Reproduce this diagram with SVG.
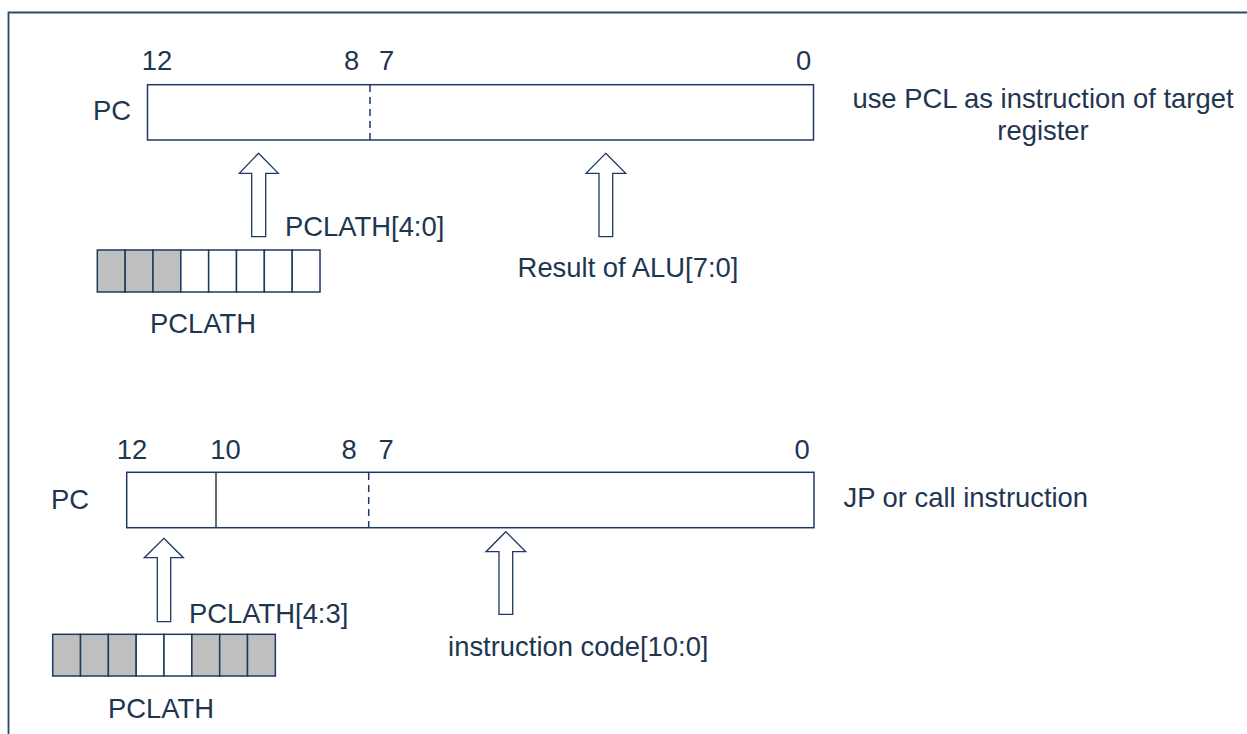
<svg xmlns="http://www.w3.org/2000/svg" width="1247" height="734" viewBox="0 0 1247 734">
<style>
text{font-family:"Liberation Sans",Arial,sans-serif;font-size:27.4px;fill:#1f3650}
.m{text-anchor:middle}
.box{fill:#fff;stroke:#1f3864;stroke-width:1.5}
.cell{stroke:#1f3864;stroke-width:1.5}
.g{fill:#bfbfbf}
.w{fill:#fff}
.arr{fill:#fff;stroke:#1f3864;stroke-width:1.3;stroke-linejoin:miter}
.div{stroke:#2b3a4a;stroke-width:1.5}
.dash{stroke:#1f3864;stroke-width:1.5;stroke-dasharray:7,5}
</style>
<path d="M8.5,734 V12.5 H1247" fill="none" stroke="#2c4a63" stroke-width="1.8"/>
<g id="pc-top">
<rect class="box" x="147.5" y="84.7" width="666" height="55.3"/>
<line class="dash" x1="370" y1="85" x2="370" y2="140"/>
<text class="m" x="112" y="120">PC</text>
<text class="m" x="157" y="69.5">12</text>
<text class="m" x="351.5" y="69.5">8</text>
<text class="m" x="386.5" y="69.5">7</text>
<text class="m" x="803.5" y="69.5">0</text>
<text class="m" x="1043" y="108">use PCL as instruction of target</text>
<text class="m" x="1043" y="140">register</text>
</g>
<g id="pclath-top">
<rect class="cell g" x="97.3" y="250" width="27.84" height="42"/>
<rect class="cell g" x="125.14" y="250" width="27.84" height="42"/>
<rect class="cell g" x="152.98" y="250" width="27.84" height="42"/>
<rect class="cell w" x="180.82" y="250" width="27.84" height="42"/>
<rect class="cell w" x="208.66" y="250" width="27.84" height="42"/>
<rect class="cell w" x="236.5" y="250" width="27.84" height="42"/>
<rect class="cell w" x="264.34" y="250" width="27.84" height="42"/>
<rect class="cell w" x="292.18" y="250" width="27.84" height="42"/>
<text class="m" x="203" y="333">PCLATH</text>
</g>
<g id="pc-bottom">
<rect class="box" x="126.7" y="472.3" width="687.3" height="55.4"/>
<line class="div" x1="216" y1="472.3" x2="216" y2="527.7"/>
<line class="dash" x1="368.7" y1="473" x2="368.7" y2="528"/>
<text class="m" x="70" y="509">PC</text>
<text class="m" x="132" y="459">12</text>
<text class="m" x="225.5" y="459">10</text>
<text class="m" x="349" y="459">8</text>
<text class="m" x="386" y="459">7</text>
<text class="m" x="802" y="459">0</text>
<text x="843.5" y="507">JP or call instruction</text>
</g>
<g id="pclath-bottom">
<rect class="cell g" x="52.7" y="634.3" width="27.83" height="41.7"/>
<rect class="cell g" x="80.53" y="634.3" width="27.83" height="41.7"/>
<rect class="cell g" x="108.36" y="634.3" width="27.83" height="41.7"/>
<rect class="cell w" x="136.19" y="634.3" width="27.83" height="41.7"/>
<rect class="cell w" x="164.02" y="634.3" width="27.83" height="41.7"/>
<rect class="cell g" x="191.85" y="634.3" width="27.83" height="41.7"/>
<rect class="cell g" x="219.68" y="634.3" width="27.83" height="41.7"/>
<rect class="cell g" x="247.51" y="634.3" width="27.83" height="41.7"/>
<text class="m" x="161" y="717.7">PCLATH</text>
</g>
<g id="connectors">
<path class="arr" d="M258.5,153.3 L278.3,173.3 L265.7,173.3 L265.7,236.7 L251.7,236.7 L251.7,173.3 L239.3,173.3 Z"/>
<text x="285" y="236">PCLATH[4:0]</text>
<path class="arr" d="M605.7,153.3 L625.7,173.3 L612.7,173.3 L612.7,236.7 L599,236.7 L599,173.3 L586,173.3 Z"/>
<text class="m" x="628" y="276.7">Result of ALU[7:0]</text>
<path class="arr" d="M163.8,538.3 L183.3,557.7 L170.7,557.7 L170.7,621.7 L157.3,621.7 L157.3,557.7 L144.3,557.7 Z"/>
<text x="189" y="622.7">PCLATH[4:3]</text>
<path class="arr" d="M505.8,531.7 L525.7,551.7 L512.7,551.7 L512.7,614.3 L499,614.3 L499,551.7 L486,551.7 Z"/>
<text class="m" x="578.3" y="656">instruction code[10:0]</text>
</g>
</svg>
